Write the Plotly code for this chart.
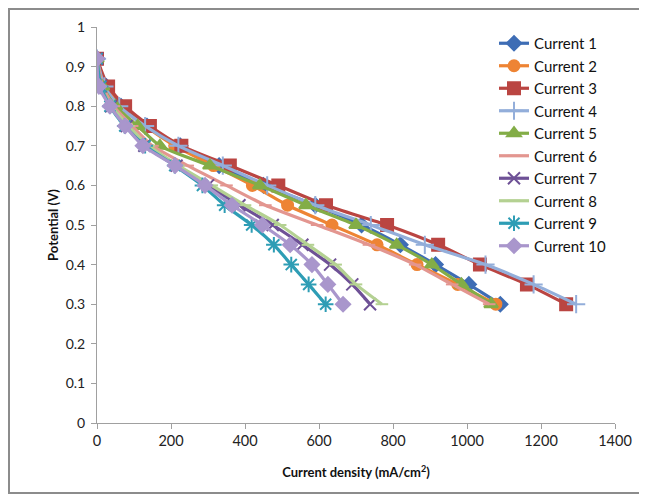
import plotly.graph_objects as go

potential = [0.92, 0.85, 0.8, 0.75, 0.7, 0.65, 0.6, 0.55, 0.5, 0.45, 0.4, 0.35, 0.3]

current_1 = [0, 25, 65, 135, 225, 330, 450, 590, 715, 820, 915, 1005, 1090]
current_2 = [0, 25, 60, 130, 210, 315, 420, 515, 635, 757, 865, 975, 1078]
current_3 = [0, 30, 76, 143, 228, 359, 490, 619, 784, 922, 1035, 1162, 1268]
current_4 = [0, 20, 60, 130, 220, 340, 460, 590, 740, 886, 1050, 1180, 1295]
current_5 = [0, 15, 50, 110, 170, 305, 440, 565, 700, 810, 905, 985, 1065]
current_6 = [0, 15, 45, 95, 150, 245, 350, 455, 595, 735, 860, 960, 1060]
current_7 = [0, 10, 38, 80, 128, 215, 300, 385, 475, 555, 630, 690, 738]
current_8 = [0, 10, 40, 85, 140, 220, 310, 400, 495, 570, 645, 700, 770]
current_9 = [0, 10, 35, 75, 130, 210, 285, 345, 418, 478, 525, 572, 618]
current_10 = [0, 5, 35, 76, 124, 211, 292, 365, 447, 522, 581, 624, 665]

names = ["Current 1", "Current 2", "Current 3", "Current 4", "Current 5",
         "Current 6", "Current 7", "Current 8", "Current 9", "Current 10"]
series = [current_1, current_2, current_3, current_4, current_5,
          current_6, current_7, current_8, current_9, current_10]
colors = ["#3E6DB5", "#EE8434", "#BA4542", "#93AEDA", "#83AD47",
          "#E39690", "#6E5196", "#B4D192", "#2E9DB5", "#A996CC"]
symbols = ["diamond", "circle", "square", "cross-thin-open", "triangle-up",
           "line-ew-open", "x-thin-open", "line-ew-open", "asterisk-open", "diamond"]
sizes = [11, 11, 12, 13, 12, 9, 12, 9, 13, 11]

fig = go.Figure()
for name, xs, c, s, sz in zip(names, series, colors, symbols, sizes):
    fig.add_trace(go.Scatter(
        x=xs, y=potential, name=name, mode="lines+markers",
        line=dict(color=c, width=3.2, shape="spline", smoothing=0.6),
        marker=dict(symbol=s, size=sz, color=c, line=dict(color=c, width=2)),
    ))

L, T, PW, PH = 89, 19, 518, 396

fig.update_layout(
    width=647, height=500,
    margin=dict(l=L, r=647 - L - PW, t=T, b=500 - T - PH, autoexpand=False),
    paper_bgcolor="white", plot_bgcolor="white",
    font=dict(family="Lato, Open Sans, sans-serif", size=14, color="#222222"),
    showlegend=True,
    legend=dict(x=(486 - L) / PW, y=1.0, xanchor="left", yanchor="top",
                bgcolor="rgba(0,0,0,0)", font=dict(size=15, color="#111111"),
                itemwidth=30, tracegroupgap=0),
    xaxis=dict(range=[0, 1400], dtick=200, showgrid=False, zeroline=False,
               showline=True, linecolor="#A0A0A0", linewidth=1,
               ticks="outside", tickcolor="#A0A0A0", ticklen=5,
               tickfont=dict(size=14.5, color="#222222"),
               title=dict(text="<b>Current density (mA/cm<sup>2</sup>)</b>",
                          font=dict(size=13, color="#111111"), standoff=19)),
    yaxis=dict(range=[0, 1], dtick=0.1, showgrid=False, zeroline=False,
               showline=True, linecolor="#A0A0A0", linewidth=1,
               ticks="outside", tickcolor="#A0A0A0", ticklen=5,
               ticklabelstandoff=3,
               tickfont=dict(size=14, color="#222222"),
               title=dict(text="<b>Potential (V)</b>",
                          font=dict(size=13, color="#111111"), standoff=4)),
    shapes=[dict(type="rect", xref="paper", yref="paper",
                 x0=(1 - L) / PW, x1=(632 - L) / PW,
                 y0=(T + PH - 485) / PH, y1=(T + PH - 1) / PH,
                 line=dict(color="#8C8C8C", width=2), fillcolor="rgba(0,0,0,0)",
                 layer="below")],
)

fig.write_html("out.html")
